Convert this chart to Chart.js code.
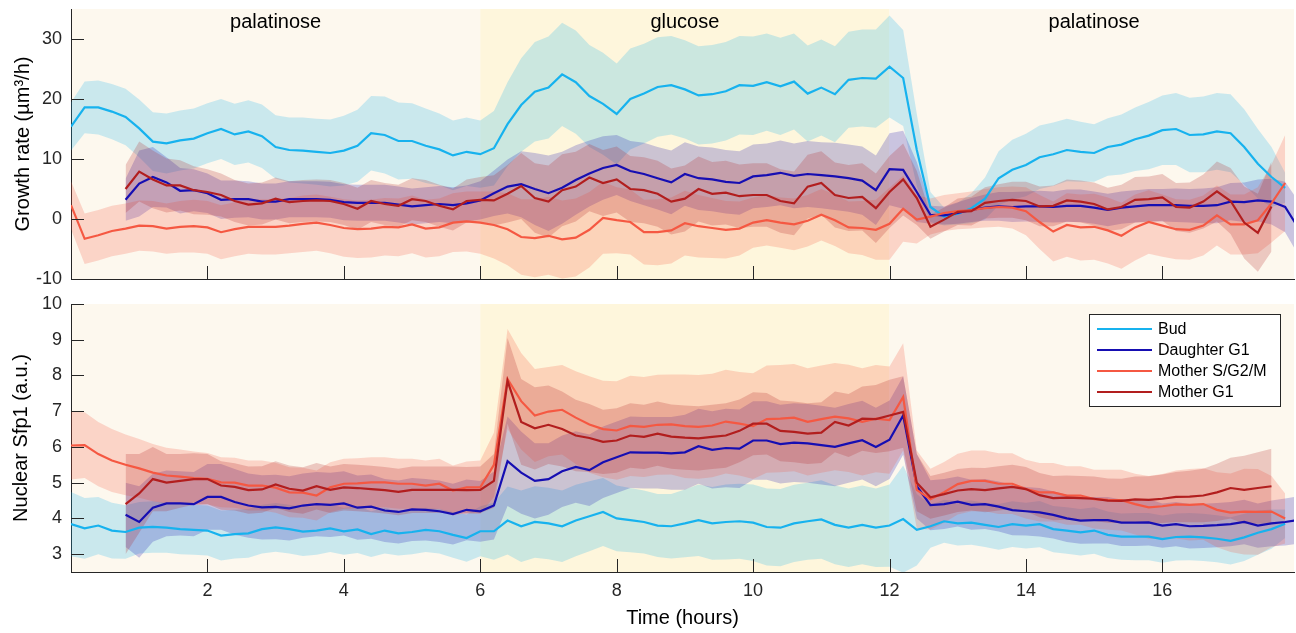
<!DOCTYPE html>
<html>
<head>
<meta charset="utf-8">
<script src="https://cdn.jsdelivr.net/npm/chart.js@4.4.1/dist/chart.umd.min.js"></script>
<style>
  html, body { margin: 0; padding: 0; background: #fff; }
  #wrap { position: relative; width: 1296px; height: 633px; }
  canvas { position: absolute; left: 0; }
  #growth { top: 0; }
  #sfp1 { top: 290px; }
</style>
</head>
<body>
<div id="wrap">
  <canvas id="growth" width="1296" height="290"></canvas>
  <canvas id="sfp1" width="1296" height="343"></canvas>
</div>
<script>
// time grid (hours)
const hours = [
  0, 0.2, 0.4, 0.6, 0.8, 1, 1.2, 1.4, 1.6, 1.8,
  2, 2.2, 2.4, 2.6, 2.8, 3, 3.2, 3.4, 3.6, 3.8,
  4, 4.2, 4.4, 4.6, 4.8, 5, 5.2, 5.4, 5.6, 5.8,
  6, 6.2, 6.4, 6.6, 6.8, 7, 7.2, 7.4, 7.6, 7.8,
  8, 8.2, 8.4, 8.6, 8.8, 9, 9.2, 9.4, 9.6, 9.8,
  10, 10.2, 10.4, 10.6, 10.8, 11, 11.2, 11.4, 11.6, 11.8,
  12, 12.2, 12.4, 12.6, 12.8, 13, 13.2, 13.4, 13.6, 13.8,
  14, 14.2, 14.4, 14.6, 14.8, 15, 15.2, 15.4, 15.6, 15.8,
  16, 16.2, 16.4, 16.6, 16.8, 17, 17.2, 17.4, 17.6, 17.8,
  18
];

const seriesNames = ["Bud", "Daughter G1", "Mother S/G2/M", "Mother G1"];
const mediumNames = ["palatinose", "glucose", "palatinose"];
const mediumStart = [0, 6, 12];
const mediumEnd = [6, 12, 18];

const xTicks = [2, 4, 6, 8, 10, 12, 14, 16];
const growthTicks = [-10, 0, 10, 20, 30];
const sfp1Ticks = [3, 4, 5, 6, 7, 8, 9, 10];

// growth rate (um3/h), mean and spread
const growthBud = [
  15.4, 18.6, 18.6, 17.9, 17.0, 15.1, 12.9, 12.6, 13.1, 13.4,
  14.3, 15.0, 14.1, 14.6, 13.8, 12.0, 11.5, 11.4, 11.2, 11.0,
  11.4, 12.2, 14.3, 14.0, 13.0, 13.0, 12.2, 11.6, 10.6, 11.2,
  10.8, 11.8, 15.8, 19.0, 21.2, 21.9, 24.1, 22.8, 20.5, 19.2,
  17.5, 20.0, 20.9, 22.0, 22.3, 21.6, 20.6, 20.8, 21.3, 22.3,
  22.2, 22.8, 22.1, 22.9, 20.9, 21.9, 20.8, 23.2, 23.5, 23.4,
  25.4, 23.5, 11.5, 2.0, 0.4, 0.9, 1.8, 3.4, 6.8, 8.2,
  9.0, 10.3, 10.8, 11.5, 11.2, 11.0, 12.0, 12.4, 13.3, 13.9,
  14.8, 15.0, 14.0, 14.1, 14.6, 14.3, 12.0, 9.2, 7.0, 5.2,
  null
];
const growthDaughter = [
  null, null, null, null, 3.2, 5.9, 7.0, 6.1, 4.7, 4.8,
  4.3, 3.2, 3.3, 3.3, 2.9, 2.9, 3.3, 3.3, 3.3, 3.2,
  2.8, 2.7, 2.7, 2.7, 2.4, 2.1, 2.3, 2.5, 2.3, 2.6,
  3.1, 4.3, 5.4, 5.8, 5.0, 4.3, 5.2, 6.5, 7.6, 8.5,
  9.0, 8.0, 7.5, 6.8, 6.1, 7.5, 6.8, 6.6, 6.2, 6.0,
  7.1, 7.3, 7.7, 7.2, 7.5, 7.3, 7.1, 6.8, 6.4, 4.8,
  8.3, 8.2, 4.5, 0.7, 0.6, 1.0, 1.5, 1.9, 2.1, 2.0,
  2.1, 2.1, 2.0, 2.2, 2.2, 1.9, 1.5, 1.9, 2.1, 2.3,
  2.3, 2.3, 2.2, 2.2, 2.3, 2.9, 2.8, 3.1, 2.9, 2.0,
  -1.6
];
const growthMotherS = [
  2.3, -3.3, -2.7, -2.0, -1.6, -1.1, -1.2, -1.6, -1.3, -1.2,
  -1.4, -2.2, -1.7, -1.3, -1.3, -1.3, -1.1, -0.8, -0.6, -1.0,
  -1.5, -1.7, -1.6, -1.3, -1.4, -0.9, -1.6, -1.4, -0.6, -0.4,
  -0.6, -1.0, -1.7, -3.0, -3.2, -2.8, -3.4, -3.1, -1.8, 0.2,
  -0.2, -0.5, -2.2, -2.2, -1.9, -0.7, -1.2, -1.5, -1.8, -1.6,
  -0.6, -0.2, -0.6, -0.9, -0.3, 0.7, -0.2, -1.4, -1.5, -1.8,
  -0.8, 1.7, -0.1, 0.4, 1.0, 1.3, 1.5, 1.8, 2.0, 1.9,
  1.3, -0.5, -2.1, -1.0, -1.4, -1.3, -1.9, -2.8, -1.4, -0.5,
  -1.1, -1.7, -1.8, -1.1, 0.6, -0.9, -0.9, -0.2, 2.6, 6.0,
  null
];
const growthMotherG1 = [
  null, null, null, null, 5.0, 7.9, 6.6, 5.6, 5.6, 4.8,
  4.5, 4.0, 3.0, 2.4, 2.6, 3.4, 2.8, 3.0, 3.1, 3.0,
  2.5, 1.7, 3.0, 2.5, 2.2, 3.3, 3.0, 2.2, 1.6, 3.0,
  3.2, 3.1, 4.2, 5.5, 3.5, 2.9, 4.8, 5.4, 6.9, 6.0,
  6.6, 5.0, 4.8, 4.2, 2.9, 3.4, 5.0, 4.2, 4.4, 3.8,
  4.0, 4.0, 3.0, 2.6, 5.4, 6.0, 4.0, 3.5, 3.7, 1.8,
  4.5, 6.6, 3.5, -1.3, -0.1, 1.2, 1.3, 2.7, 3.0, 3.2,
  3.0, 2.1, 2.2, 3.1, 2.9, 2.5, 1.6, 2.0, 3.2, 3.3,
  3.6, 2.0, 1.9, 2.9, 4.6, 3.0, -0.6, -2.3, 2.1, null,
  null
];
const growthBudSd = [
  4.0, 4.3, 4.5, 4.6, 4.7, 4.8, 4.9, 5.0, 5.0, 5.0,
  5.0, 5.0, 5.1, 5.2, 5.3, 5.3, 5.4, 5.5, 5.5, 5.6,
  5.8, 6.0, 6.2, 6.4, 6.4, 6.3, 6.2, 6.0, 5.8, 5.7,
  5.6, 6.2, 7.0, 7.8, 8.3, 8.5, 8.6, 8.6, 8.5, 8.5,
  8.4, 8.4, 8.3, 8.3, 8.2, 8.2, 8.2, 8.2, 8.2, 8.2,
  8.2, 8.1, 8.1, 8.0, 8.0, 8.0, 8.0, 8.0, 8.1, 8.2,
  8.5, 8.0, 6.0, 2.5, 1.5, 1.8, 2.5, 3.5, 4.5, 5.0,
  5.2, 5.3, 5.3, 5.2, 5.0, 4.8, 4.8, 5.0, 5.3, 5.6,
  5.8, 6.0, 6.2, 6.3, 6.4, 6.5, 6.3, 5.8, 5.0, 2.5,
  null
];
const growthDaughterSd = [
  null, null, null, null, 3.5, 5.5, 5.0, 4.2, 3.8, 3.5,
  3.3, 3.2, 3.1, 3.0, 3.0, 3.0, 3.0, 3.0, 3.0, 3.0,
  3.0, 3.0, 3.0, 3.0, 3.0, 3.0, 3.0, 3.0, 3.0, 3.0,
  3.2, 3.8, 4.5, 5.5, 6.0, 6.3, 6.0, 5.8, 5.5, 5.3,
  5.0, 5.0, 5.2, 5.2, 5.3, 5.3, 5.3, 5.3, 5.3, 5.3,
  5.3, 5.3, 5.4, 5.4, 5.5, 5.5, 5.6, 5.6, 5.7, 5.8,
  6.0, 6.5, 5.0, 1.5, 1.5, 1.8, 2.0, 2.2, 2.4, 2.5,
  2.5, 2.6, 2.6, 2.7, 2.7, 2.7, 2.7, 2.7, 2.7, 2.7,
  2.7, 2.8, 2.8, 2.9, 3.0, 3.1, 3.3, 3.5, 3.8, 4.2,
  4.5
];
const growthMotherSSd = [
  4.0, 4.2, 4.2, 4.2, 4.2, 4.2, 4.2, 4.2, 4.3, 4.4,
  4.4, 4.5, 4.5, 4.5, 4.6, 4.6, 4.6, 4.7, 4.7, 4.7,
  4.8, 4.8, 4.8, 4.8, 4.8, 4.8, 4.8, 4.8, 4.9, 5.0,
  5.2, 5.6, 6.0, 6.3, 6.5, 6.5, 6.5, 6.5, 6.3, 6.0,
  5.5, 5.4, 5.4, 5.5, 5.5, 5.4, 5.2, 5.0, 4.8, 4.5,
  4.2, 4.2, 4.2, 4.3, 4.3, 4.3, 4.3, 4.3, 4.5, 5.0,
  6.0, 5.5, 4.0, 3.0, 3.0, 3.0, 3.1, 3.2, 3.3, 3.5,
  4.0, 4.5, 5.0, 5.3, 5.5, 5.5, 5.5, 5.5, 5.5, 5.3,
  5.2, 5.0, 5.0, 5.0, 5.0, 5.0, 5.0, 5.5, 6.5, 8.0,
  null
];
const growthMotherG1Sd = [
  null, null, null, null, 4.0, 5.0, 4.8, 4.5, 4.2, 4.0,
  3.8, 3.6, 3.5, 3.5, 3.5, 3.5, 3.5, 3.5, 3.5, 3.5,
  3.5, 3.5, 3.5, 3.5, 3.5, 3.5, 3.5, 3.5, 3.5, 3.6,
  3.8, 4.2, 4.8, 5.5, 5.8, 6.0, 6.0, 5.8, 5.6, 5.5,
  5.5, 5.5, 5.5, 5.5, 5.5, 5.5, 5.4, 5.3, 5.3, 5.3,
  5.3, 5.3, 5.3, 5.3, 5.3, 5.3, 5.4, 5.5, 5.6, 5.8,
  6.0, 6.0, 4.5, 2.0, 2.0, 2.2, 2.4, 2.6, 2.8, 3.0,
  3.2, 3.3, 3.4, 3.5, 3.5, 3.6, 3.6, 3.7, 3.8, 3.8,
  3.9, 4.0, 4.2, 4.5, 5.0, 5.5, 6.0, 6.5, 7.5, null,
  null
];

// nuclear Sfp1 (a.u.), mean and spread
const sfp1Bud = [
  3.84, 3.72, 3.80, 3.66, 3.62, 3.74, 3.76, 3.74, 3.70, 3.68,
  3.66, 3.52, 3.56, 3.58, 3.70, 3.75, 3.70, 3.63, 3.66, 3.72,
  3.64, 3.69, 3.56, 3.66, 3.58, 3.62, 3.68, 3.64, 3.54, 3.45,
  3.64, 3.64, 3.94, 3.78, 3.90, 3.86, 3.78, 3.94, 4.06, 4.18,
  4.00, 3.95, 3.90, 3.80, 3.78, 3.86, 3.95, 3.86, 3.90, 3.92,
  3.88, 3.76, 3.74, 3.86, 3.92, 3.97, 3.82, 3.74, 3.82, 3.74,
  3.80, 3.98, 3.68, 3.78, 3.92, 3.86, 3.88, 3.82, 3.76, 3.84,
  3.80, 3.84, 3.70, 3.66, 3.61, 3.66, 3.54, 3.49, 3.49, 3.49,
  3.42, 3.48, 3.49, 3.47, 3.43, 3.37, 3.47, 3.60, 3.70, 3.85,
  null
];
const sfp1Daughter = [
  null, null, null, null, 4.10, 3.90, 4.30, 4.42, 4.42, 4.40,
  4.60, 4.60, 4.46, 4.36, 4.31, 4.32, 4.28, 4.36, 4.40, 4.38,
  4.42, 4.30, 4.33, 4.22, 4.18, 4.25, 4.24, 4.20, 4.12, 4.24,
  4.20, 4.36, 5.60, 5.28, 5.05, 5.10, 5.32, 5.44, 5.35, 5.57,
  5.71, 5.85, 5.84, 5.84, 5.82, 5.85, 6.02, 5.92, 5.97, 5.95,
  6.18, 6.18, 6.08, 6.12, 6.10, 6.05, 6.00, 6.10, 6.19, 6.00,
  6.20, 6.88, 4.90, 4.37, 4.40, 4.47, 4.38, 4.40, 4.33, 4.23,
  4.20, 4.17, 4.10, 4.00, 3.94, 3.95, 3.95, 3.88, 3.88, 3.89,
  3.80, 3.84, 3.78, 3.79, 3.81, 3.84, 3.90, 3.80, 3.86, 3.90,
  3.96
];
const sfp1MotherS = [
  6.04, 6.05, 5.80, 5.62, 5.50, 5.40, 5.28, 5.20, 5.17, 5.13,
  5.11, 5.01, 5.00, 4.92, 4.92, 4.86, 4.73, 4.72, 4.64, 4.87,
  4.97, 4.98, 5.01, 5.01, 4.97, 4.97, 4.92, 4.97, 4.78, 4.87,
  4.87, 5.50, 7.90, 7.28, 6.88, 6.99, 7.04, 6.82, 6.63, 6.50,
  6.46, 6.59, 6.56, 6.62, 6.63, 6.58, 6.56, 6.60, 6.71, 6.65,
  6.58, 6.78, 6.79, 6.82, 6.70, 6.78, 6.85, 6.80, 6.70, 6.79,
  6.75, 7.40, 4.80, 4.54, 4.73, 4.96, 5.05, 5.05, 4.97, 4.97,
  4.82, 4.73, 4.73, 4.64, 4.64, 4.54, 4.52, 4.51, 4.40, 4.31,
  4.34, 4.39, 4.38, 4.40, 4.24, 4.16, 4.19, 4.18, 4.19, 4.00,
  null
];
const sfp1MotherG1 = [
  null, null, null, null, 4.40, 4.70, 5.10, 5.00, 5.05, 5.10,
  5.10, 4.92, 4.88, 4.79, 4.81, 4.95, 4.83, 4.78, 4.90, 4.80,
  4.87, 4.85, 4.82, 4.79, 4.74, 4.80, 4.80, 4.80, 4.80, 4.79,
  4.80, 5.05, 7.85, 6.70, 6.52, 6.62, 6.50, 6.32, 6.25, 6.14,
  6.18, 6.32, 6.28, 6.37, 6.29, 6.26, 6.24, 6.28, 6.32, 6.45,
  6.65, 6.65, 6.45, 6.42, 6.37, 6.40, 6.70, 6.60, 6.79, 6.78,
  6.88, 6.98, 5.00, 4.59, 4.68, 4.78, 4.82, 4.79, 4.84, 4.88,
  4.82, 4.65, 4.57, 4.58, 4.57, 4.55, 4.50, 4.49, 4.53, 4.52,
  4.55, 4.60, 4.61, 4.64, 4.73, 4.85, 4.80, 4.85, 4.90, null,
  null
];
const sfp1BudSd = [
  0.90, 0.85, 0.80, 0.78, 0.75, 0.72, 0.72, 0.70, 0.70, 0.70,
  0.70, 0.70, 0.68, 0.68, 0.68, 0.68, 0.68, 0.68, 0.68, 0.66,
  0.66, 0.66, 0.64, 0.64, 0.62, 0.62, 0.62, 0.62, 0.64, 0.66,
  0.70, 0.80, 0.95, 1.00, 1.00, 1.00, 1.00, 1.00, 0.98, 0.95,
  0.92, 0.90, 0.88, 0.88, 0.90, 0.95, 1.00, 1.02, 1.05, 1.05,
  1.07, 1.08, 1.08, 1.08, 1.08, 1.10, 1.10, 1.10, 1.10, 1.10,
  1.15, 1.50, 1.00, 0.60, 0.60, 0.62, 0.62, 0.62, 0.64, 0.64,
  0.64, 0.65, 0.65, 0.65, 0.65, 0.65, 0.65, 0.65, 0.66, 0.66,
  0.66, 0.66, 0.66, 0.66, 0.66, 0.66, 0.66, 0.62, 0.55, 0.40,
  null
];
const sfp1DaughterSd = [
  null, null, null, null, 0.90, 1.00, 0.95, 0.92, 0.90, 0.90,
  0.92, 0.92, 0.92, 0.90, 0.90, 0.90, 0.90, 0.90, 0.90, 0.90,
  0.90, 0.90, 0.90, 0.88, 0.88, 0.88, 0.86, 0.86, 0.85, 0.85,
  0.85, 0.95, 1.25, 1.15, 1.05, 1.00, 1.00, 1.00, 1.00, 1.00,
  1.00, 1.00, 1.00, 1.00, 1.02, 1.05, 1.05, 1.08, 1.10, 1.10,
  1.10, 1.10, 1.10, 1.10, 1.10, 1.10, 1.10, 1.10, 1.10, 1.10,
  1.10, 1.10, 0.90, 0.70, 0.70, 0.70, 0.70, 0.70, 0.70, 0.70,
  0.68, 0.68, 0.66, 0.66, 0.65, 0.65, 0.65, 0.65, 0.65, 0.65,
  0.62, 0.62, 0.62, 0.62, 0.62, 0.62, 0.62, 0.62, 0.64, 0.66,
  0.66
];
const sfp1MotherSSd = [
  0.95, 0.92, 0.90, 0.88, 0.85, 0.82, 0.80, 0.78, 0.76, 0.74,
  0.72, 0.70, 0.70, 0.70, 0.70, 0.70, 0.70, 0.70, 0.70, 0.70,
  0.70, 0.70, 0.70, 0.70, 0.70, 0.70, 0.70, 0.70, 0.70, 0.72,
  0.75, 0.90, 1.40, 1.35, 1.30, 1.25, 1.25, 1.30, 1.35, 1.35,
  1.38, 1.40, 1.40, 1.40, 1.40, 1.45, 1.45, 1.45, 1.45, 1.45,
  1.48, 1.50, 1.50, 1.50, 1.50, 1.50, 1.50, 1.50, 1.50, 1.50,
  1.50, 1.50, 1.10, 0.85, 0.85, 0.85, 0.85, 0.85, 0.85, 0.85,
  0.82, 0.82, 0.82, 0.82, 0.82, 0.82, 0.84, 0.85, 0.85, 0.88,
  0.90, 0.95, 1.00, 1.00, 1.05, 1.10, 1.20, 1.20, 1.00, 0.70,
  null
];
const sfp1MotherG1Sd = [
  null, null, null, null, 1.40, 1.10, 0.90, 0.80, 0.75, 0.72,
  0.70, 0.68, 0.66, 0.66, 0.65, 0.65, 0.65, 0.65, 0.65, 0.65,
  0.65, 0.65, 0.65, 0.65, 0.65, 0.65, 0.65, 0.65, 0.65, 0.65,
  0.65, 0.75, 1.20, 1.20, 1.15, 1.10, 1.05, 1.00, 0.95, 0.90,
  0.90, 0.90, 0.90, 0.90, 0.90, 0.90, 0.90, 0.90, 0.90, 0.88,
  0.88, 0.86, 0.85, 0.85, 0.85, 0.85, 0.85, 0.88, 0.90, 0.95,
  1.00, 1.00, 0.80, 0.60, 0.60, 0.60, 0.60, 0.62, 0.62, 0.62,
  0.62, 0.62, 0.62, 0.62, 0.62, 0.62, 0.62, 0.62, 0.64, 0.66,
  0.68, 0.70, 0.72, 0.75, 0.80, 0.85, 0.95, 1.00, 1.05, null,
  null
];

// styles
const lineColors = ["#17b2ee", "#160eb2", "#f55842", "#b21e1e"];
const bandColors = ["rgba(23,178,238,0.22)", "rgba(22,14,178,0.22)", "rgba(245,88,66,0.22)", "rgba(178,30,30,0.22)"];
const mediumColors = ["#fdf8ee", "#fef6dc", "#fdf8ee"];
const FONT = '"Liberation Sans", Arial, Helvetica, sans-serif';
const AXIS = "#262626";
const X_MAX = 17.93;

function pts(vals, sd, sign) {
  const out = [];
  vals.forEach((v, i) => {
    if (v === null || (sd && sd[i] === null)) return;
    out.push({ x: hours[i], y: sd ? v + sign * sd[i] : v });
  });
  return out;
}

function makeDatasets(means, sds) {
  const sets = [];
  means.forEach((m, s) => {
    sets.push({ data: pts(m, sds[s], 1), borderColor: "rgba(0,0,0,0)", borderWidth: 0, pointRadius: 0, fill: false, order: 20 - s });
    sets.push({ data: pts(m, sds[s], -1), borderColor: "rgba(0,0,0,0)", borderWidth: 0, pointRadius: 0, fill: "-1", backgroundColor: bandColors[s], order: 20 - s });
  });
  means.forEach((m, s) => {
    sets.push({ data: pts(m), borderColor: lineColors[s], borderWidth: 2.2, pointRadius: 0, fill: false, order: 10 - s });
  });
  return sets;
}

// medium shading behind the plot
const mediumBg = {
  id: "mediumBg",
  beforeDraw(chart) {
    const { ctx, chartArea, scales } = chart;
    ctx.save();
    mediumStart.forEach((s, i) => {
      const x0 = Math.max(scales.x.getPixelForValue(s), chartArea.left);
      const x1 = Math.min(scales.x.getPixelForValue(mediumEnd[i]), chartArea.right);
      ctx.fillStyle = mediumColors[i];
      ctx.fillRect(x0, chartArea.top, x1 - x0, chartArea.bottom - chartArea.top);
    });
    ctx.restore();
  }
};

// matlab style ticks pointing inwards
const innerTicks = {
  id: "innerTicks",
  afterDraw(chart) {
    const { ctx, chartArea, scales } = chart;
    ctx.save();
    ctx.strokeStyle = AXIS;
    ctx.lineWidth = 1;
    ctx.beginPath();
    scales.x.ticks.forEach(t => {
      const x = Math.round(scales.x.getPixelForValue(t.value)) + 0.5;
      ctx.moveTo(x, chartArea.bottom);
      ctx.lineTo(x, chartArea.bottom - 13);
    });
    scales.y.ticks.forEach(t => {
      const y = Math.round(scales.y.getPixelForValue(t.value)) + 0.5;
      ctx.moveTo(chartArea.left, y);
      ctx.lineTo(chartArea.left + 13, y);
    });
    ctx.stroke();
    ctx.restore();
  }
};

const mediumLabels = {
  id: "mediumLabels",
  afterDraw(chart) {
    const { ctx, chartArea, scales } = chart;
    ctx.save();
    ctx.font = "20px " + FONT;
    ctx.fillStyle = "#000";
    ctx.textAlign = "center";
    ctx.textBaseline = "middle";
    mediumNames.forEach((name, i) => {
      const x = (scales.x.getPixelForValue(mediumStart[i]) + scales.x.getPixelForValue(mediumEnd[i])) / 2;
      ctx.fillText(name, x, chartArea.top + 13);
    });
    ctx.restore();
  }
};

const legendBox = {
  id: "legendBox",
  afterDraw(chart) {
    const { ctx, chartArea } = chart;
    const x0 = Math.round(chartArea.right - 205), y0 = Math.round(chartArea.top + 10);
    ctx.save();
    ctx.fillStyle = "#fff";
    ctx.fillRect(x0, y0, 191, 92);
    ctx.strokeStyle = AXIS;
    ctx.lineWidth = 1;
    ctx.strokeRect(x0 + 0.5, y0 + 0.5, 191, 92);
    ctx.font = "16px " + FONT;
    ctx.textBaseline = "middle";
    seriesNames.forEach((name, i) => {
      const y = y0 + 15 + i * 21;
      ctx.strokeStyle = lineColors[i];
      ctx.lineWidth = 2.2;
      ctx.beginPath();
      ctx.moveTo(x0 + 8, y);
      ctx.lineTo(x0 + 63, y);
      ctx.stroke();
      ctx.fillStyle = "#000";
      ctx.fillText(name, x0 + 69, y + 1);
    });
    ctx.restore();
  }
};

function panel(canvasId, means, sds, yMin, yMax, yTicks, yTitle, titlePad, bottomAxis) {
  const plugins = [mediumBg, innerTicks];
  if (bottomAxis) plugins.push(legendBox); else plugins.push(mediumLabels);
  return new Chart(document.getElementById(canvasId), {
    type: "line",
    data: { datasets: makeDatasets(means, sds) },
    plugins,
    options: {
      responsive: false,
      animation: false,
      devicePixelRatio: 1,
      layout: { padding: { top: bottomAxis ? 14 : 9, right: 2, left: 0, bottom: 0 } },
      plugins: { legend: { display: false }, tooltip: { enabled: false } },
      elements: { line: { tension: 0 } },
      scales: {
        x: {
          type: "linear",
          min: 0,
          max: X_MAX,
          afterBuildTicks: s => { s.ticks = xTicks.map(v => ({ value: v })); },
          afterFit: s => { s.height = bottomAxis ? 61 : 11; s.paddingLeft = 0; s.paddingRight = 0; },
          grid: { display: true, drawOnChartArea: false, drawTicks: false },
          border: { display: true, color: AXIS, width: 1 },
          ticks: { display: bottomAxis, color: AXIS, font: { family: FONT, size: 18 }, padding: 8, maxRotation: 0 },
          title: { display: bottomAxis, text: "Time (hours)", color: "#000", font: { family: FONT, size: 20 }, padding: { top: 0, bottom: 3 } }
        },
        y: {
          min: yMin,
          max: yMax,
          afterBuildTicks: s => { s.ticks = yTicks.map(v => ({ value: v })); },
          afterFit: s => { s.width = 71; s.paddingTop = 0; s.paddingBottom = 0; },
          grid: { display: true, drawOnChartArea: false, drawTicks: false },
          border: { display: true, color: AXIS, width: 1 },
          ticks: { color: AXIS, font: { family: FONT, size: 18 }, padding: 9 },
          title: { display: true, text: yTitle, color: "#000", font: { family: FONT, size: 20 }, padding: { top: titlePad, bottom: 0 } }
        }
      }
    }
  });
}

panel("growth",
  [growthBud, growthDaughter, growthMotherS, growthMotherG1],
  [growthBudSd, growthDaughterSd, growthMotherSSd, growthMotherG1Sd],
  -10, 35, growthTicks, "Growth rate (µm³/h)", 11, false);

panel("sfp1",
  [sfp1Bud, sfp1Daughter, sfp1MotherS, sfp1MotherG1],
  [sfp1BudSd, sfp1DaughterSd, sfp1MotherSSd, sfp1MotherG1Sd],
  2.5, 10, sfp1Ticks, "Nuclear Sfp1 (a.u.)", 9, true);
</script>
</body>
</html>
